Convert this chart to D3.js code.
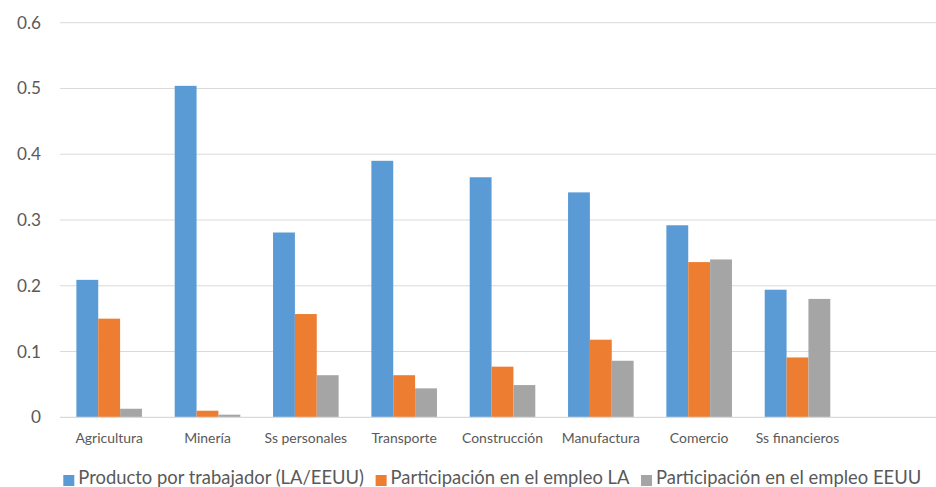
<!DOCTYPE html>
<meta charset="utf-8">
<head>
  <title>Productividad relativa y empleo por sector</title>
</head>
<style>
  body { margin: 0; background: #fff; }
  svg text { font-family: Lato, "Open Sans", sans-serif; fill: #595959; }
</style>
<body>
  <svg width="936" height="487"></svg>

  <script src="https://cdn.jsdelivr.net/npm/d3@7"></script>
  <script>
// data
var categories = ["Agricultura", "Minería", "Ss personales", "Transporte",
                  "Construcción", "Manufactura", "Comercio", "Ss financieros", ""];
var seriesNames = ["Producto por trabajador (LA/EEUU)",
                   "Participación en el empleo LA",
                   "Participación en el empleo EEUU"];
var producto  = [0.209, 0.504, 0.281, 0.390, 0.365, 0.342, 0.292, 0.194, null];
var empleoLA  = [0.150, 0.010, 0.157, 0.064, 0.077, 0.118, 0.236, 0.091, null];
var empleoUS  = [0.013, 0.004, 0.064, 0.044, 0.049, 0.086, 0.240, 0.180, null];
var yTicks = [0, 0.1, 0.2, 0.3, 0.4, 0.5, 0.6];
var colors = ["#5b9bd5", "#ed7d31", "#a5a5a5"];

var series = [producto, empleoLA, empleoUS];

var svg = d3.select("svg");

var x = d3.scaleBand()
    .domain(d3.range(categories.length))
    .range([60, 945])
    .paddingInner(0.333)
    .paddingOuter(0.1665);

var x1 = d3.scaleBand()
    .domain(d3.range(series.length))
    .range([0, x.bandwidth()]);

var y = d3.scaleLinear()
    .domain([0, 0.6])
    .range([417.3, 22.7]);

// gridlines
svg.append("g")
  .selectAll("line")
  .data(yTicks.slice(1))
  .join("line")
    .attr("x1", 60)
    .attr("x2", 945)
    .attr("y1", d => y(d))
    .attr("y2", d => y(d))
    .attr("stroke", "#d9d9d9")
    .attr("stroke-width", 1);

// y labels
var yLab = svg.append("g")
  .selectAll("text")
  .data(yTicks)
  .join("text")
    .attr("x", 41)
    .attr("y", d => y(d))
    .attr("dy", "0.35em")
    .attr("text-anchor", "end")
    .text(d => d === 0 ? "0" : d3.format(".1f")(d));
var ySize = 16;
yLab.style("font-size", ySize + "px");
var w6 = yLab.filter(d => d === 0.6).node().getComputedTextLength();
yLab.style("font-size", (ySize * 24 / w6).toFixed(2) + "px");

// bars
var groups = svg.append("g")
  .selectAll("g")
  .data(categories)
  .join("g")
    .attr("transform", (d, i) => "translate(" + x(i) + ",0)");

groups.selectAll("rect")
  .data((d, i) => series.map((s, k) => ({k: k, v: s[i]})).filter(e => e.v != null))
  .join("rect")
    .attr("x", d => x1(d.k))
    .attr("width", x1.bandwidth())
    .attr("y", d => y(d.v))
    .attr("height", d => y(0) - y(d.v))
    .attr("fill", d => colors[d.k]);

// baseline
svg.append("line")
  .attr("x1", 60).attr("x2", 945)
  .attr("y1", y(0)).attr("y2", y(0))
  .attr("stroke", "#d9d9d9")
  .attr("stroke-width", 1.2);

// category labels
var cat = svg.append("g")
  .selectAll("text")
  .data(categories)
  .join("text")
    .attr("x", (d, i) => x(i) + x.bandwidth() / 2)
    .attr("y", 442.5)
    .attr("text-anchor", "middle")
    .text(d => d);
var cSize = 13;
cat.style("font-size", cSize + "px");
var wa = cat.filter((d, i) => i === 0).node().getComputedTextLength();
cat.style("font-size", (cSize * 67.5 / wa).toFixed(2) + "px");

// legend: one font size, scaled so the row runs from the first swatch to the right end
var legend = svg.append("g");
var legStart = 63.3, legEnd = 921.7, gap = 11.6, base = 17;
var items = seriesNames.map(function(name, k) {
  var g = legend.append("g");
  g.append("rect")
    .attr("width", 11)
    .attr("height", 11)
    .attr("y", 475)
    .attr("fill", colors[k]);
  var t = g.append("text")
    .attr("x", 15)
    .attr("y", 483.5)
    .style("font-size", base + "px")
    .text(name);
  return {g: g, t: t};
});
var textW = d3.sum(items, d => d.t.node().getComputedTextLength());
var avail = legEnd - legStart - items.length * 15 - (items.length - 1) * gap;
var legSize = base * avail / textW;
var lx = legStart;
items.forEach(function(it) {
  it.t.style("font-size", legSize.toFixed(2) + "px");
  it.g.attr("transform", "translate(" + lx + ",0)");
  lx += 15 + it.t.node().getComputedTextLength() + gap;
});

  </script>
</body>
</html>
